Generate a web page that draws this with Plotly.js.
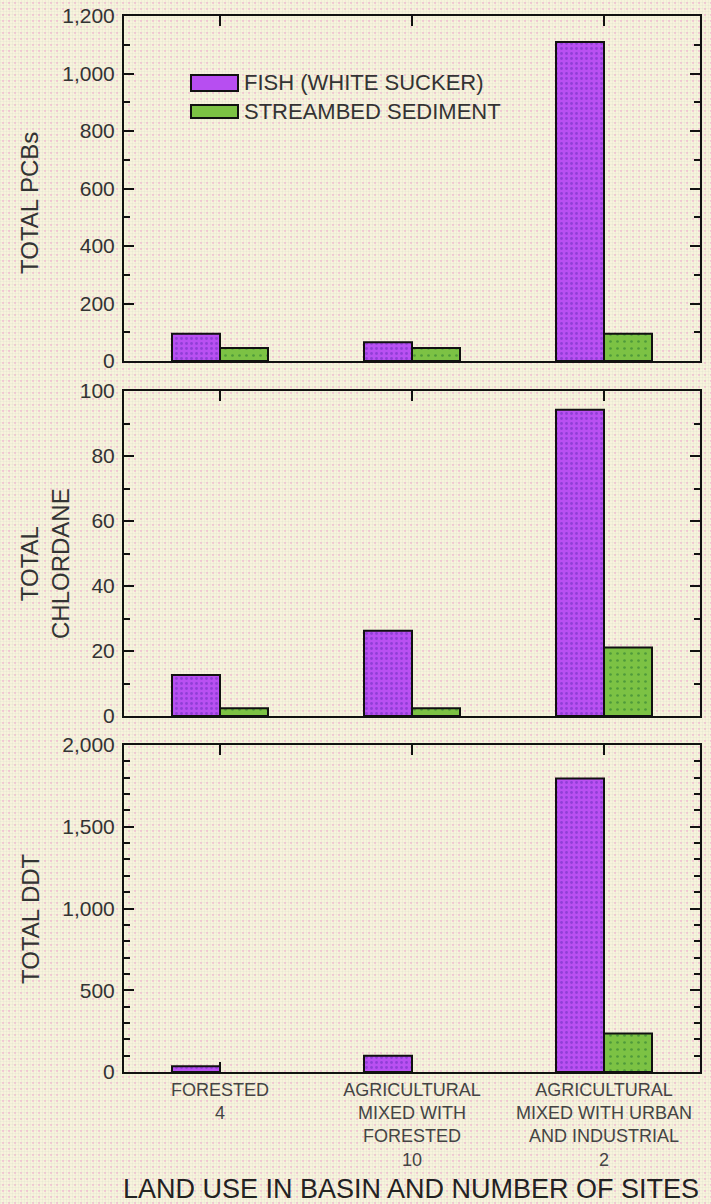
<!DOCTYPE html>
<html>
<head>
<meta charset="utf-8">
<script src="https://cdn.plot.ly/plotly-3.0.1.min.js"></script>
<style>
  html, body { margin: 0; padding: 0; }
  body {
    width: 711px; height: 1204px; overflow: hidden;
    background-color: #f7f4dc;
    background-image:
      radial-gradient(circle, rgba(240,165,205,0.5) 0.9px, transparent 1.4px),
      linear-gradient(90deg, rgba(180,180,180,0.10) 1px, transparent 1px),
      linear-gradient(0deg, rgba(180,180,180,0.10) 1px, transparent 1px);
    background-size: 6px 6px, 3px 3px, 3px 3px;
  }
  #chart { width: 711px; height: 1204px; }
</style>
</head>
<body>
<div id="chart"></div>
<script>
// ---- Data ----
const categories = [
  'FORESTED<br>4',
  'AGRICULTURAL<br>MIXED WITH<br>FORESTED<br>10',
  'AGRICULTURAL<br>MIXED WITH URBAN<br>AND INDUSTRIAL<br>2'
];
const seriesNames = ['FISH (WHITE SUCKER)', 'STREAMBED SEDIMENT'];
const pcbFish = [95, 65, 1110];
const pcbSediment = [45, 45, 95];
const chlordaneFish = [12.6, 26.2, 94.2];
const chlordaneSediment = [2.4, 2.4, 21.1];
const ddtFish = [35, 100, 1795];
const ddtSediment = [0, 0, 235];
const panelTitles = ['TOTAL PCBs', 'TOTAL<br>CHLORDANE', 'TOTAL DDT'];
const xTitle = 'LAND USE IN BASIN AND NUMBER OF SITES';

// ---- Styles ----
const FONT = 'Liberation Sans, Arial, Helvetica, sans-serif';
const fishColor = '#b74ef1';
const sedColor = '#7cc244';
function fishMarker(vals) {
  return {
    color: fishColor,
    line: {color: '#111', width: vals.map(v => v > 0 ? 2 : 0)},
    pattern: {shape: '.', fgcolor: '#8f3fd6', bgcolor: '#b950f2', size: 5, solidity: 0.25}
  };
}
function sedMarker(vals) {
  return {
    color: sedColor,
    line: {color: '#111', width: vals.map(v => v > 0 ? 2 : 0)},
    pattern: {shape: '.', fgcolor: '#4f9a3a', bgcolor: sedColor, size: 7, solidity: 0.12}
  };
}

const W = 711, H = 1204;
const px = v => v / W;
const py = v => 1 - v / H;

const panels = [
  {fish: pcbFish, sed: pcbSediment, range: [0, 1200], dtick: 200, minor: 100, dom: [py(361), py(16)], title: panelTitles[0], titleY: 203},
  {fish: chlordaneFish, sed: chlordaneSediment, range: [0, 100], dtick: 20, minor: 10, dom: [py(716), py(391)], title: panelTitles[1], titleY: 564},
  {fish: ddtFish, sed: ddtSediment, range: [0, 2000], dtick: 500, minor: 100, dom: [py(1072), py(745)], title: panelTitles[2], titleY: 919}
];

const data = [];
const layout = {
  width: W, height: H,
  margin: {l: 0, r: 0, t: 0, b: 0},
  paper_bgcolor: 'rgba(0,0,0,0)',
  plot_bgcolor: 'rgba(0,0,0,0)',
  barmode: 'group',
  bargap: 0.5,
  bargroupgap: 0,
  showlegend: false,
  font: {family: FONT, color: '#333'},
  annotations: [],
  shapes: []
};

panels.forEach((p, i) => {
  const n = i === 0 ? '' : String(i + 1);
  const xa = 'x' + n, ya = 'y' + n;
  data.push({type: 'bar', x: categories, y: p.fish, name: seriesNames[0], xaxis: xa, yaxis: ya, marker: fishMarker(p.fish), hoverinfo: 'skip'});
  data.push({type: 'bar', x: categories, y: p.sed, name: seriesNames[1], xaxis: xa, yaxis: ya, marker: sedMarker(p.sed), hoverinfo: 'skip'});
  layout['xaxis' + n] = {
    domain: [px(124), px(700)],
    anchor: ya,
    type: 'category',
    range: [-0.5, 2.5],
    showline: true, linecolor: '#111', linewidth: 2, mirror: 'ticks',
    ticks: 'inside', ticklen: 10, tickwidth: 2, tickcolor: '#111',
    showgrid: false, zeroline: false,
    showticklabels: i === 2,
    tickfont: {family: FONT, size: 18, color: '#444'},
    automargin: false
  };
  layout['yaxis' + n] = {
    domain: p.dom,
    anchor: xa,
    range: p.range,
    dtick: p.dtick, tick0: 0,
    tickformat: ',d',
    showline: true, linecolor: '#111', linewidth: 2, mirror: 'ticks',
    ticks: 'inside', ticklen: 10, tickwidth: 2, tickcolor: '#111',
    minor: {dtick: p.minor, ticks: 'inside', ticklen: 6, tickwidth: 2, tickcolor: '#111', showgrid: false},
    showgrid: false, zeroline: false,
    tickfont: {family: FONT, size: 21, color: '#333'},
    ticklabelstandoff: 3,
    automargin: false
  };
  layout.annotations.push({
    xref: 'paper', yref: 'paper', x: px(i === 1 ? 45 : 30), y: py(p.titleY),
    text: p.title, textangle: -90, showarrow: false,
    font: {family: FONT, size: 24, color: '#333'},
    xanchor: 'center', yanchor: 'middle', align: 'center'
  });
});

// x axis title
layout.annotations.push({
  xref: 'paper', yref: 'paper', x: px(411), y: py(1189),
  text: xTitle, showarrow: false,
  font: {family: FONT, size: 27, color: '#222'},
  xanchor: 'center', yanchor: 'middle'
});

// legend (drawn as key boxes + labels in the first panel)
const legendItems = [
  {name: seriesNames[0], fill: fishColor, y0: 75, y1: 91, ty: 83},
  {name: seriesNames[1], fill: sedColor, y0: 105, y1: 118, ty: 112}
];
legendItems.forEach(it => {
  layout.shapes.push({
    type: 'rect', xref: 'paper', yref: 'paper',
    x0: px(191), x1: px(238), y0: py(it.y1), y1: py(it.y0),
    fillcolor: it.fill, line: {color: '#111', width: 2}
  });
  layout.annotations.push({
    xref: 'paper', yref: 'paper', x: px(242), y: py(it.ty),
    text: it.name, showarrow: false,
    font: {family: FONT, size: 22, color: '#333'},
    xanchor: 'left', yanchor: 'middle'
  });
});

Plotly.newPlot('chart', data, layout, {displayModeBar: false, staticPlot: true});
</script>
</body>
</html>
